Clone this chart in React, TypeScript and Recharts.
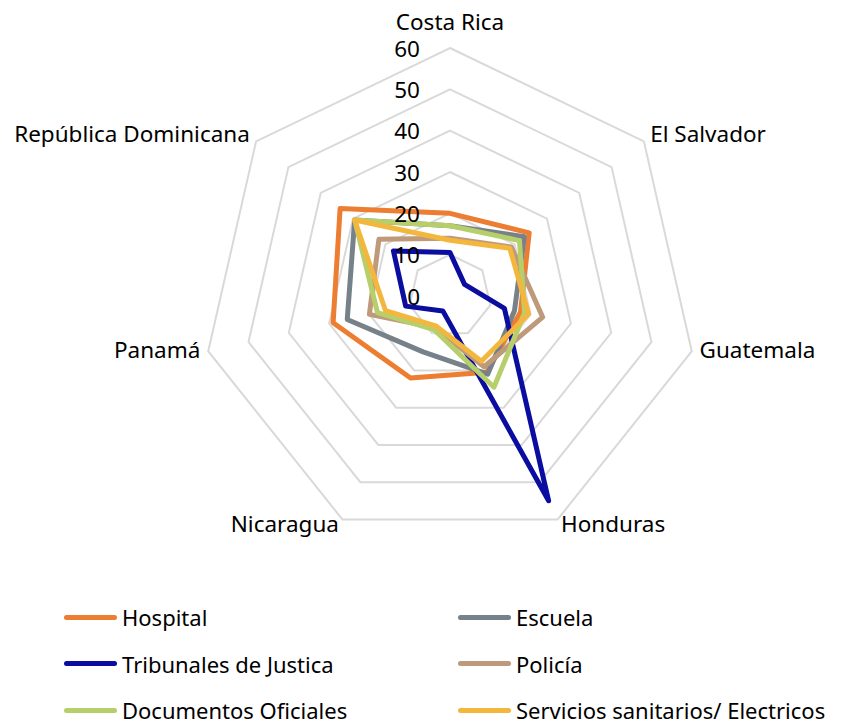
import * as React from 'react';
import { RadarChart, Radar, PolarGrid, PolarAngleAxis, PolarRadiusAxis, Legend } from 'recharts';

const countries = ['Costa Rica', 'El Salvador', 'Guatemala', 'Honduras', 'Nicaragua', 'Panamá', 'República Dominicana'];

const hospital = [20, 24.5, 17.5, 20.5, 22, 29, 34];
const escuela = [17, 23, 16, 21, 15, 25.5, 29.5];
const tribunales = [10.5, 4.5, 13.5, 55, 4, 11, 17.5];
const policia = [14, 19, 23, 19, 8.5, 20, 22];
const documentos = [17, 21.5, 18.5, 24.5, 9, 18, 29.5];
const servicios = [13.5, 18.5, 19.5, 17.5, 8, 16, 29.5];

const radiusDomain = [0, 60];
const radiusTickCount = 7;

const series = [
  { key: 'hospital', name: 'Hospital', color: '#ED7D31', values: hospital },
  { key: 'escuela', name: 'Escuela', color: '#77818A', values: escuela },
  { key: 'tribunales', name: 'Tribunales de Justica', color: '#0A0D9F', values: tribunales },
  { key: 'policia', name: 'Policía', color: '#BE9A7A', values: policia },
  { key: 'documentos', name: 'Documentos Oficiales', color: '#B7CF6A', values: documentos },
  { key: 'servicios', name: 'Servicios sanitarios/ Electricos', color: '#F3B73E', values: servicios },
];

const data = countries.map((country, i) => {
  const row: any = { country };
  series.forEach((s) => {
    row[s.key] = s.values[i];
  });
  return row;
});

const FONT = "'Noto Sans', sans-serif";

const AngleTick = (props: any) => {
  const { x, y, textAnchor, payload } = props;
  const dy = textAnchor === 'middle' ? -19 : -3;
  return (
    <text x={x} y={y + dy} textAnchor={textAnchor} dominantBaseline="central" fontSize={22.5} fill="#000" fontFamily={FONT}>
      {payload.value}
    </text>
  );
};

const RadiusTick = (props: any) => {
  const { x, y, payload } = props;
  return (
    <text x={x - 30} y={y} textAnchor="end" dominantBaseline="central" fontSize={22.5} fill="#000" fontFamily={FONT}>
      {payload.value}
    </text>
  );
};

// legend keeps the series order (2 columns, 3 rows)
const renderLegend = () => (
  <div style={{ display: 'grid', gridTemplateColumns: '394px 394px', fontFamily: FONT }}>
    {series.map((s) => (
      <div key={s.key} style={{ display: 'flex', alignItems: 'center', height: 46.5 }}>
        <span style={{ display: 'inline-block', width: 53, height: 5, borderRadius: 3, background: s.color }} />
        <span style={{ marginLeft: 5, fontSize: 22, lineHeight: '26px', color: '#000', whiteSpace: 'nowrap' }}>{s.name}</span>
      </div>
    ))}
  </div>
);

export default function App() {
  return (
    <div style={{ fontFamily: FONT }}>
      <RadarChart
        width={830}
        height={716}
        data={data}
        cx={442}
        cy={288}
        outerRadius={248}
        margin={{ top: 0, right: 0, bottom: 0, left: 0 }}
      >
        <PolarGrid gridType="polygon" radialLines={false} stroke="#D9D9D9" strokeWidth={2} />
        <PolarAngleAxis dataKey="country" tick={<AngleTick />} tickLine={false} axisLine={false} />
        <PolarRadiusAxis
          angle={90}
          domain={radiusDomain}
          tickCount={radiusTickCount}
          tick={<RadiusTick />}
          axisLine={false}
          tickLine={false}
        />
        {series.map((s) => (
          <Radar
            key={s.key}
            dataKey={s.key}
            name={s.name}
            stroke={s.color}
            strokeWidth={5}
            strokeLinejoin="round"
            fill="none"
            fillOpacity={0}
            dot={false}
            isAnimationActive={false}
          />
        ))}
        <Legend
          content={renderLegend}
          verticalAlign="top"
          align="left"
          wrapperStyle={{ left: 56, top: 586, width: 790 }}
        />
      </RadarChart>
    </div>
  );
}
